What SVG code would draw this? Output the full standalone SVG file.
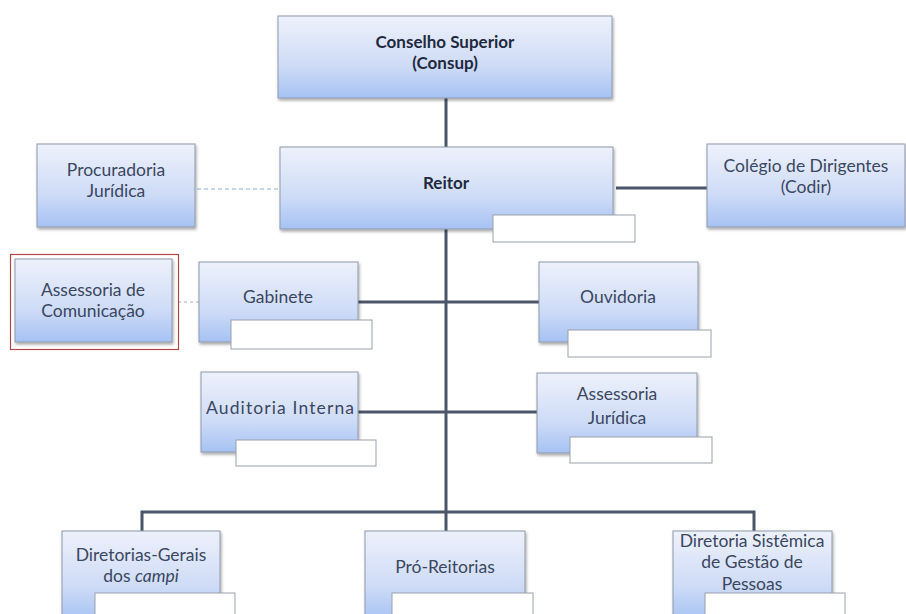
<svg xmlns="http://www.w3.org/2000/svg" width="906" height="614" viewBox="0 0 906 614">
<defs>
<linearGradient id="g" x1="0" y1="0" x2="0" y2="1">
<stop offset="0" stop-color="#edf1fb"/>
<stop offset="0.6" stop-color="#cfdcf7"/>
<stop offset="1" stop-color="#a6c2f3"/>
</linearGradient>
<filter id="sh" x="-10%" y="-10%" width="120%" height="130%">
<feDropShadow dx="1" dy="2" stdDeviation="1.5" flood-color="#000" flood-opacity="0.35"/>
</filter>
<style>
.box{fill:url(#g);stroke:#8f99aa;stroke-width:1;filter:url(#sh)}
.lab{fill:#ffffff;stroke:#9aa0aa;stroke-width:1}
.t{font-family:Lato,"Open Sans","Liberation Sans",sans-serif;font-size:17.5px;fill:#3a4762;text-anchor:middle}
.b{font-weight:bold;fill:#1f2a40;font-size:17px}
.ln{stroke:#4b5669;stroke-width:3;fill:none}
.dash{stroke:#8fb0d6;stroke-width:1.2;stroke-dasharray:4 3;fill:none}
.dash2{stroke:#b0a8ae;stroke-width:1;stroke-dasharray:3 3;fill:none}
</style>
</defs>
<rect width="906" height="614" fill="#ffffff"/>
<g id="connectors">
<line class="ln" x1="446" y1="98" x2="446" y2="148"/>
<line class="ln" x1="446" y1="229" x2="446" y2="513"/>
<line class="ln" x1="616" y1="188" x2="707" y2="188"/>
<line class="dash" x1="197" y1="189" x2="280" y2="189"/>
<line class="dash2" x1="178" y1="302" x2="199" y2="302"/>
<line class="ln" x1="358" y1="302" x2="539" y2="302"/>
<line class="ln" x1="358" y1="412" x2="537" y2="412"/>
<polyline class="ln" points="142,531 142,512 754,512 754,531"/>
<line class="ln" x1="446" y1="512" x2="446" y2="531"/>
</g>
<g id="consup">
<rect class="box" x="278" y="16" width="334" height="82"/>
<text class="t b" x="445" y="48">Conselho Superior</text>
<text class="t b" x="445" y="69">(Consup)</text>
</g>
<g id="reitor">
<rect class="box" x="280" y="147" width="333" height="82"/>
<rect class="lab" x="493" y="215" width="142" height="27"/>
<text class="t b" x="446" y="189">Reitor</text>
</g>
<g id="procuradoria">
<rect class="box" x="37" y="144" width="158" height="83"/>
<text class="t" x="116" y="176">Procuradoria</text>
<text class="t" x="116" y="197">Jurídica</text>
</g>
<g id="codir">
<rect class="box" x="707" y="144" width="198" height="83"/>
<text class="t" x="806" y="172">Colégio de Dirigentes</text>
<text class="t" x="806" y="193">(Codir)</text>
</g>
<g id="comunicacao">
<rect x="10.5" y="254.5" width="168" height="95" fill="none" stroke="#b04a4a" stroke-width="1.2"/>
<rect class="box" x="15" y="259" width="157" height="83"/>
<text class="t" x="93" y="296">Assessoria de</text>
<text class="t" x="93" y="317">Comunicação</text>
</g>
<g id="gabinete">
<rect class="box" x="199" y="262" width="159" height="80"/>
<rect class="lab" x="231" y="320" width="141" height="29"/>
<text class="t" x="278" y="303">Gabinete</text>
</g>
<g id="ouvidoria">
<rect class="box" x="539" y="262" width="159" height="80"/>
<rect class="lab" x="568" y="330" width="143" height="27"/>
<text class="t" x="618" y="303">Ouvidoria</text>
</g>
<g id="auditoria">
<rect class="box" x="201" y="372" width="157" height="80"/>
<rect class="lab" x="236" y="440" width="140" height="26"/>
<text class="t" x="280" y="414" textLength="148" lengthAdjust="spacing">Auditoria  Interna</text>
</g>
<g id="assjuridica">
<rect class="box" x="537" y="373" width="160" height="80"/>
<rect class="lab" x="570" y="437" width="142" height="26"/>
<text class="t" x="617" y="400">Assessoria</text>
<text class="t" x="617" y="424">Jurídica</text>
</g>
<g id="diretorias">
<rect class="box" x="62" y="531" width="158" height="90"/>
<rect class="lab" x="95" y="593" width="140" height="30"/>
<text class="t" x="141" y="561">Diretorias-Gerais</text>
<text class="t" x="141" y="582">dos <tspan font-style="italic">campi</tspan></text>
</g>
<g id="proreitorias">
<rect class="box" x="365" y="531" width="160" height="90"/>
<rect class="lab" x="392" y="593" width="141" height="30"/>
<text class="t" x="445" y="573">Pró-Reitorias</text>
</g>
<g id="gestaopessoas">
<rect class="box" x="673" y="531" width="159" height="90"/>
<rect class="lab" x="705" y="593" width="140" height="30"/>
<text class="t" x="752" y="547">Diretoria Sistêmica</text>
<text class="t" x="752" y="568">de Gestão de</text>
<text class="t" x="752" y="590">Pessoas</text>
</g>
</svg>
